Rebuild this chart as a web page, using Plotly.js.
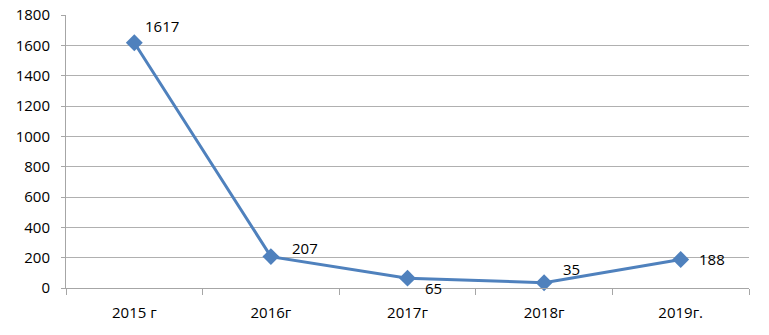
<!DOCTYPE html>
<html>
<head>
<meta charset="utf-8">
<script src="https://cdn.plot.ly/plotly-3.0.1.min.js"></script>
<style>html,body{margin:0;padding:0;background:#fff;}#chart{width:769px;height:335px;}</style>
</head>
<body>
<div id="chart"></div>
<script>
const categories = ["2015 г", "2016г", "2017г", "2018г", "2019г."];
const values = [1617, 207, 65, 35, 188];
const labelText = ["1617", "207", "65", "35", "188"];
const yTicks = [0, 200, 400, 600, 800, 1000, 1200, 1400, 1600, 1800];

// label offsets (style only)
const labelShiftX = [28, 34, 26, 27, 31];
const labelShiftY = [17, 9, -10, 14, 0];

const font = "Open Sans, Liberation Sans, sans-serif";

const annotations = categories.map((c, i) => ({
  x: c, y: values[i], xref: "x", yref: "y",
  text: labelText[i], showarrow: false,
  xshift: labelShiftX[i], yshift: labelShiftY[i],
  font: {family: font, size: 15, color: "#000"}
}));

Plotly.newPlot("chart", [{
  x: categories, y: values, type: "scatter", mode: "lines+markers",
  line: {color: "#4F81BD", width: 3},
  marker: {symbol: "diamond", size: 13, color: "#4F81BD"},
  hoverinfo: "none", cliponaxis: false
}], {
  width: 769, height: 335,
  margin: {l: 66, r: 20, t: 15, b: 47},
  paper_bgcolor: "#fff", plot_bgcolor: "#fff",
  showlegend: false,
  xaxis: {
    type: "category", range: [-0.5, categories.length - 0.5],
    tickson: "boundaries", ticks: "outside", ticklen: 6,
    tickcolor: "#A6A6A6", showline: true, linecolor: "#A6A6A6", linewidth: 1,
    showgrid: false, zeroline: false, ticklabelstandoff: 11,
    tickfont: {family: font, size: 15, color: "#000"}, fixedrange: true
  },
  yaxis: {
    range: [0, 1800], tickvals: yTicks, ticktext: yTicks.map(String),
    ticks: "outside", ticklen: 4, tickcolor: "#A6A6A6",
    showline: true, linecolor: "#A6A6A6", linewidth: 1,
    showgrid: true, gridcolor: "#B0B0B0", gridwidth: 1, zeroline: false,
    ticklabelstandoff: 8,
    tickfont: {family: font, size: 15, color: "#000"}, fixedrange: true
  },
  annotations: annotations
}, {displayModeBar: false, staticPlot: true});
</script>
</body>
</html>
